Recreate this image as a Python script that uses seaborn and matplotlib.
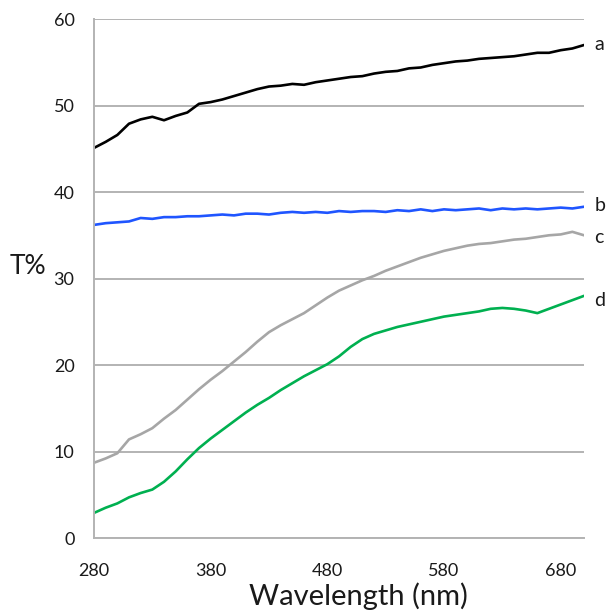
import numpy as np
import pandas as pd
import matplotlib
matplotlib.use("Agg")
import matplotlib.pyplot as plt
import seaborn as sns

sns.set_theme(style="white")
plt.rcParams['font.family'] = ['Lato', 'DejaVu Sans']

wavelength = list(range(280, 701, 10))

# transmittance (every 10 nm)
T_a = [45.1, 45.8, 46.6, 47.9, 48.4, 48.7, 48.3, 48.8, 49.2, 50.2, 50.4,
       50.7, 51.1, 51.5, 51.9, 52.2, 52.3, 52.5, 52.4, 52.7, 52.9, 53.1,
       53.3, 53.4, 53.7, 53.9, 54.0, 54.3, 54.4, 54.7, 54.9, 55.1, 55.2,
       55.4, 55.5, 55.6, 55.7, 55.9, 56.1, 56.1, 56.4, 56.6, 57.0]
T_b = [36.2, 36.4, 36.5, 36.6, 37.0, 36.9, 37.1, 37.1, 37.2, 37.2, 37.3,
       37.4, 37.3, 37.5, 37.5, 37.4, 37.6, 37.7, 37.6, 37.7, 37.6, 37.8,
       37.7, 37.8, 37.8, 37.7, 37.9, 37.8, 38.0, 37.8, 38.0, 37.9, 38.0,
       38.1, 37.9, 38.1, 38.0, 38.1, 38.0, 38.1, 38.2, 38.1, 38.3]
T_c = [8.7, 9.2, 9.8, 11.4, 12.0, 12.7, 13.8, 14.8, 16.0, 17.2, 18.3,
       19.3, 20.4, 21.5, 22.7, 23.8, 24.6, 25.3, 26.0, 26.9, 27.8, 28.6,
       29.2, 29.8, 30.3, 30.9, 31.4, 31.9, 32.4, 32.8, 33.2, 33.5, 33.8,
       34.0, 34.1, 34.3, 34.5, 34.6, 34.8, 35.0, 35.1, 35.4, 35.0]
T_d = [2.9, 3.5, 4.0, 4.7, 5.2, 5.6, 6.5, 7.7, 9.1, 10.4, 11.5,
       12.5, 13.5, 14.5, 15.4, 16.2, 17.1, 17.9, 18.7, 19.4, 20.1, 21.0,
       22.1, 23.0, 23.6, 24.0, 24.4, 24.7, 25.0, 25.3, 25.6, 25.8, 26.0,
       26.2, 26.5, 26.6, 26.5, 26.3, 26.0, 26.5, 27.0, 27.5, 28.0]

names = ["a", "b", "c", "d"]
colors = {"a": "black", "b": "#1f55ff", "c": "#a6a6a6", "d": "#00b050"}

df = pd.concat([
    pd.DataFrame({"wl": wavelength, "T": vals, "sample": n})
    for n, vals in zip(names, [T_a, T_b, T_c, T_d])
])

fig = plt.figure(figsize=(6.08, 6.15), dpi=100)
ax = fig.add_axes([0.1546, 0.1252, 0.806, 0.8438])

ax.yaxis.grid(True, color="#b3b3b3", linewidth=1.4)
ax.set_axisbelow(True)
sns.lineplot(data=df, x="wl", y="T", hue="sample", palette=colors,
             linewidth=1.9, legend=False, ax=ax)

ax.set_xlim(280, 700)
ax.set_ylim(0, 60)
ax.set_xticks(range(280, 681, 100))
ax.set_xticks(range(330, 681, 100), minor=True)
ax.set_yticks(range(0, 61, 10))

for s in ["top", "right"]:
    ax.spines[s].set_visible(False)
for s in ["left", "bottom"]:
    ax.spines[s].set_color("#b3b3b3")
    ax.spines[s].set_linewidth(1.4)

ax.tick_params(axis="both", which="both", direction="out", color="#b3b3b3",
               width=1.4, labelsize=13, labelcolor="#1a1a1a")
ax.tick_params(axis="x", which="both", length=6, pad=12)
ax.tick_params(axis="y", length=5, pad=9)

ax.set_xlabel("Wavelength (nm)", fontsize=21, color="#1a1a1a")
ax.xaxis.set_label_coords(0.539, -0.085)
ax.set_ylabel("T%", fontsize=19, color="#1a1a1a", rotation=0)
ax.yaxis.set_label_coords(-0.135, 0.50)

label_y = {"a": 57.1, "b": 38.4, "c": 34.7, "d": 27.5}
for n in names:
    ax.text(709, label_y[n], n, fontsize=14, va="center", ha="left",
            color="#1a1a1a", clip_on=False)

fig.savefig("out.png", dpi=100)
